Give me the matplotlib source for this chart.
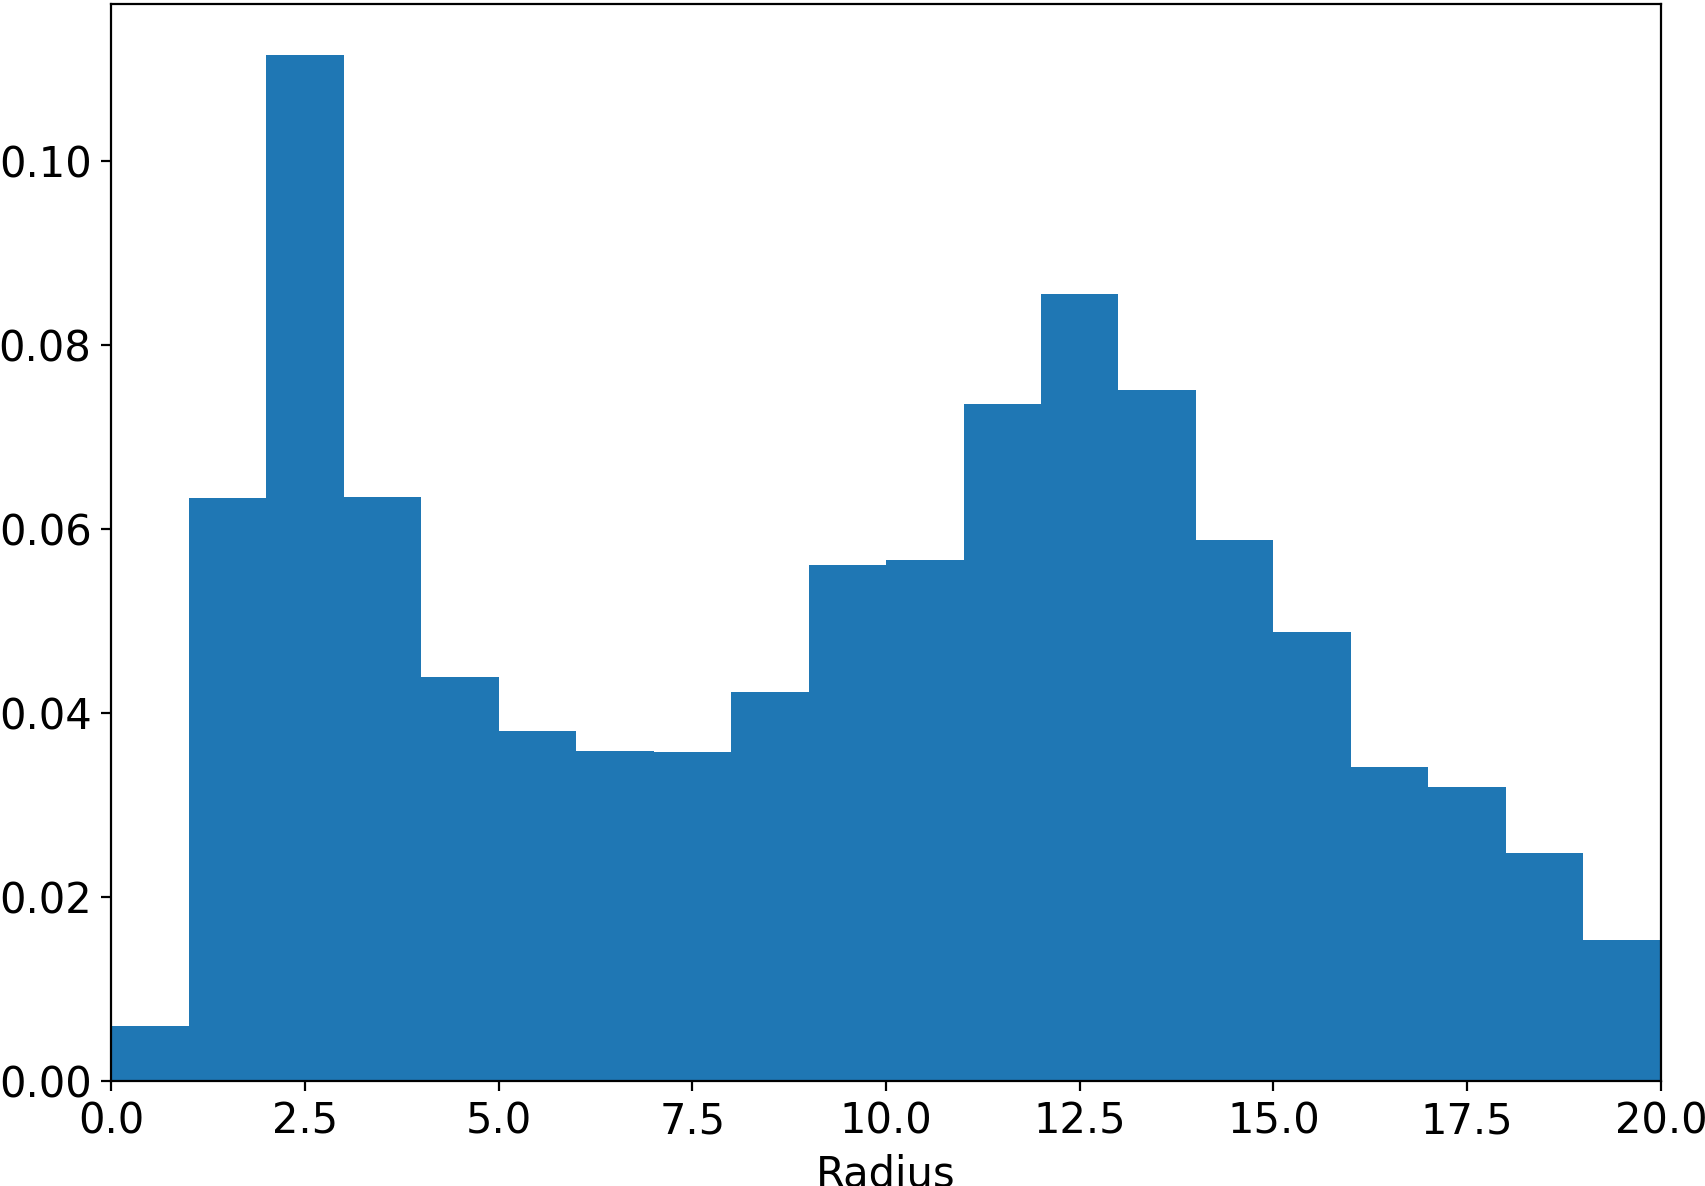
import matplotlib
matplotlib.use("Agg")
import matplotlib.pyplot as plt
import numpy as np

bin_edges = list(range(0, 21))
densities = [0.0060, 0.0634, 0.1115, 0.0635, 0.0439, 0.0381, 0.0359, 0.0358,
             0.0423, 0.0561, 0.0566, 0.0736, 0.0856, 0.0751, 0.0588, 0.0488,
             0.0341, 0.0320, 0.0248, 0.0153]
xticks = [0.0, 2.5, 5.0, 7.5, 10.0, 12.5, 15.0, 17.5, 20.0]
yticks = [0.00, 0.02, 0.04, 0.06, 0.08, 0.10]

plt.rcParams['font.size'] = 15
fig = plt.figure(figsize=(8.53, 5.93), dpi=200)
ax = fig.add_axes([0.0651, 0.0885, 0.9085, 0.9081])
ax.hist(bin_edges[:-1], bins=bin_edges, weights=densities, color='#1f77b4')
ax.set_xlim(0, 20)
ax.set_ylim(0, max(densities) * 1.05)
ax.set_xticks(xticks)
ax.set_xticklabels([f"{v:.1f}" for v in xticks])
ax.set_yticks(yticks)
ax.set_yticklabels([f"{v:.2f}" for v in yticks])
ax.set_xlabel("Radius")
fig.savefig("out.png", dpi=200)
